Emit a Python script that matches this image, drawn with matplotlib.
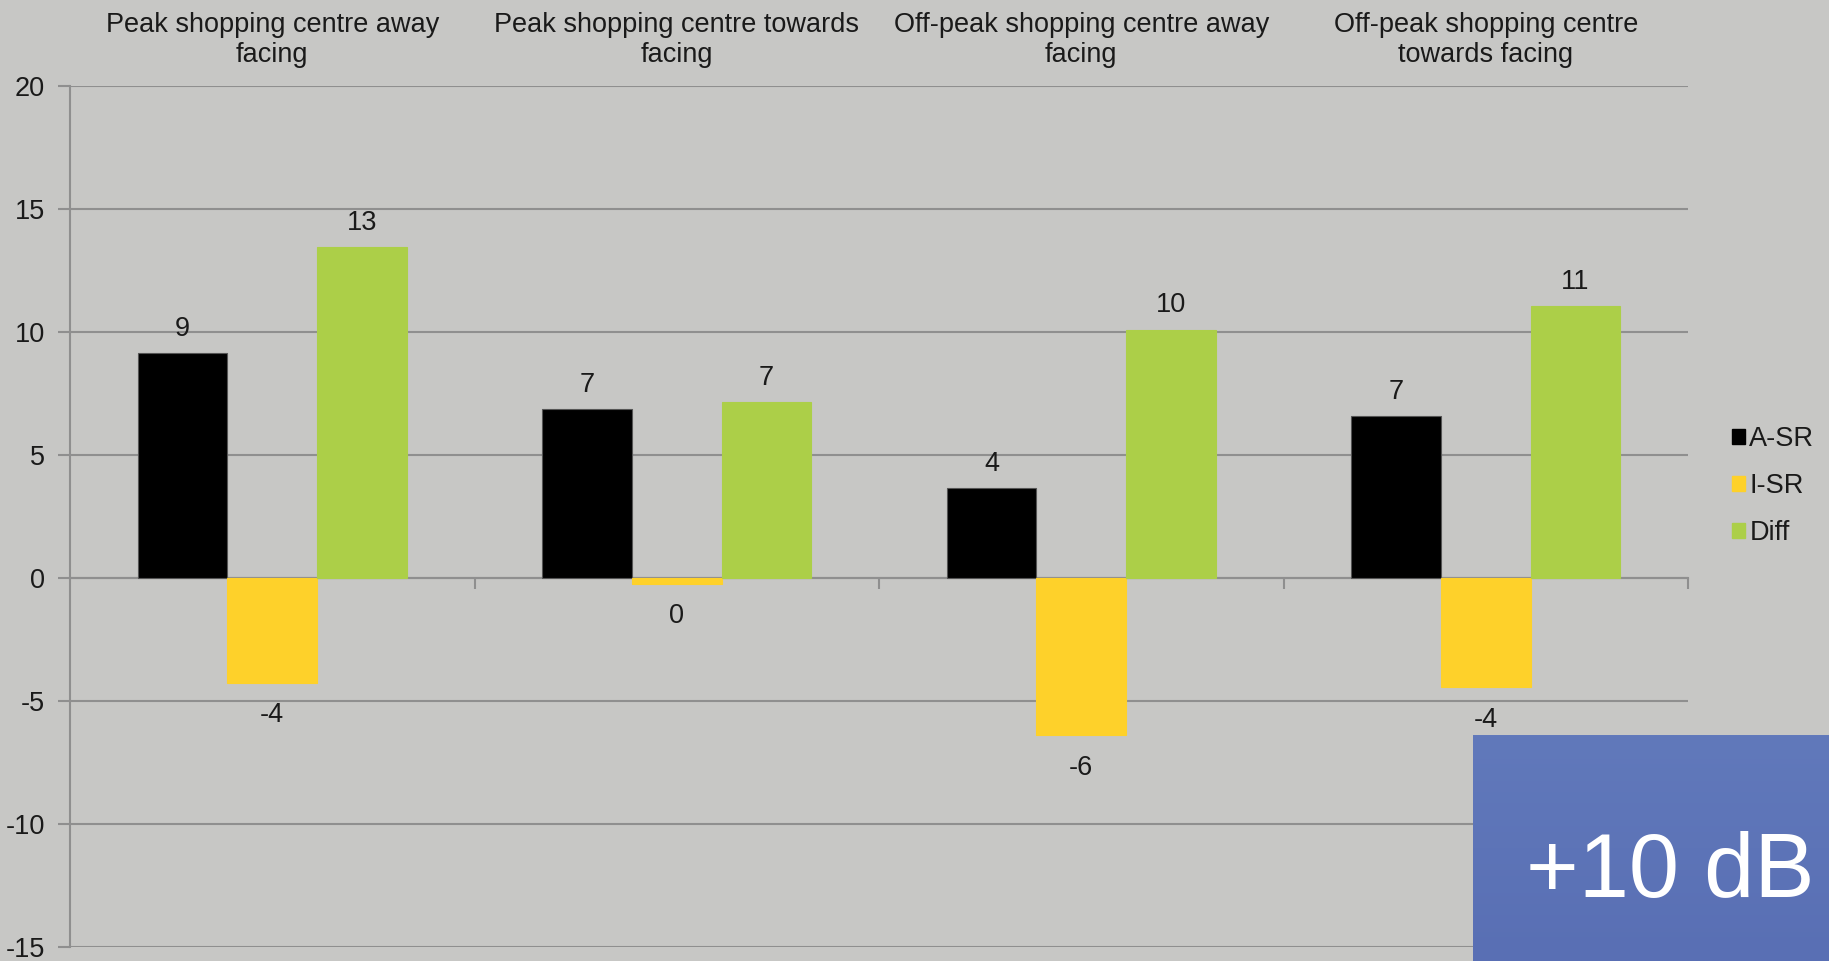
import matplotlib.pyplot as plt
import numpy as np
from matplotlib.patches import Patch
from matplotlib.colors import LinearSegmentedColormap

plt.rcParams['font.family'] = ['Liberation Sans', 'DejaVu Sans']
plt.rcParams['axes.unicode_minus'] = False

# 類別與數值
categories = ['Peak shopping centre away\nfacing',
              'Peak shopping centre towards\nfacing',
              'Off-peak shopping centre away\nfacing',
              'Off-peak shopping centre\ntowards facing']
a_sr = [9.15, 6.87, 3.65, 6.59]
i_sr = [-4.27, -0.24, -6.40, -4.45]
diff = [13.46, 7.16, 10.10, 11.04]
series_names = ['A-SR', 'I-SR', 'Diff']
colors = ['#000000', '#fed12a', '#accf48']
yticks = [-15, -10, -5, 0, 5, 10, 15, 20]

bg = '#c7c7c5'
grid_c = '#8f8f8f'
txt_c = '#1a1a1a'
fs = 19.5

fig = plt.figure(figsize=(18.29, 9.61), dpi=100, facecolor=bg)
ax = fig.add_axes([70 / 1829, 14 / 961, 1618 / 1829, 861 / 961])
ax.set_facecolor(bg)

x = np.arange(len(categories))
w = 0.222
for k, (vals, name, c) in enumerate(zip([a_sr, i_sr, diff], series_names, colors)):
    ec = '#555555' if c == '#000000' else c
    bars = ax.bar(x + (k - 1) * w, vals, w, color=c, edgecolor=ec, linewidth=0.8,
                  label=name, zorder=3)
    for b, v in zip(bars, vals):
        cx = b.get_x() + b.get_width() / 2
        lab = str(int(round(v)) + 0)
        if v >= 0:
            ax.annotate(lab, (cx, v), xytext=(0, 8), textcoords='offset points',
                        ha='center', va='bottom', fontsize=fs, color=txt_c)
        else:
            ax.annotate(lab, (cx, v), xytext=(0, -14), textcoords='offset points',
                        ha='center', va='top', fontsize=fs, color=txt_c)

ax.set_xlim(-0.5, 3.5)
ax.set_ylim(-15, 20)
ax.set_yticks(yticks)
ax.yaxis.grid(True, color=grid_c, linewidth=1.5, zorder=0)
ax.tick_params(axis='y', length=9, width=1.5, color=grid_c, pad=9,
               labelsize=fs, labelcolor=txt_c)

# 零線當作 x 軸
for s in ['top', 'right']:
    ax.spines[s].set_visible(False)
ax.spines['left'].set_color(grid_c)
ax.spines['left'].set_linewidth(1.5)
ax.spines['bottom'].set_position(('data', 0))
ax.spines['bottom'].set_color(grid_c)
ax.spines['bottom'].set_linewidth(1.5)
ax.set_xticks(x + 0.5)
ax.set_xticklabels([])
ax.tick_params(axis='x', length=8, width=1.5, color=grid_c, direction='out')

# 類別名稱放在上方
top = ax.secondary_xaxis('top')
top.set_xticks(x)
top.set_xticklabels(categories, fontsize=fs, color=txt_c, linespacing=1.2)
top.tick_params(length=0, pad=13)
top.spines['top'].set_visible(False)

handles = [Patch(facecolor=c, edgecolor=c) for c in colors]
fig.legend(handles, series_names, loc='center left', bbox_to_anchor=(1721 / 1829, 0.494),
           frameon=False, fontsize=fs, handlelength=0.5, handleheight=0.5,
           handletextpad=0.15, labelspacing=0.78, borderaxespad=0, labelcolor=txt_c)

# 右下角的藍色標籤
box = fig.add_axes([1473 / 1829, 0, 356 / 1829, 226 / 961])
grad = np.linspace(0, 1, 100).reshape(-1, 1)
cmap = LinearSegmentedColormap.from_list('b', ['#6179bb', '#596fb4'])
box.imshow(grad, aspect='auto', cmap=cmap, extent=[0, 1, 0, 1], origin='upper')
box.set_axis_off()
box.text(0.96, 0.385, '+10 dB', color='white', fontsize=65, ha='right', va='center',
         transform=box.transAxes)

fig.savefig('out.png', dpi=100, facecolor=bg)
